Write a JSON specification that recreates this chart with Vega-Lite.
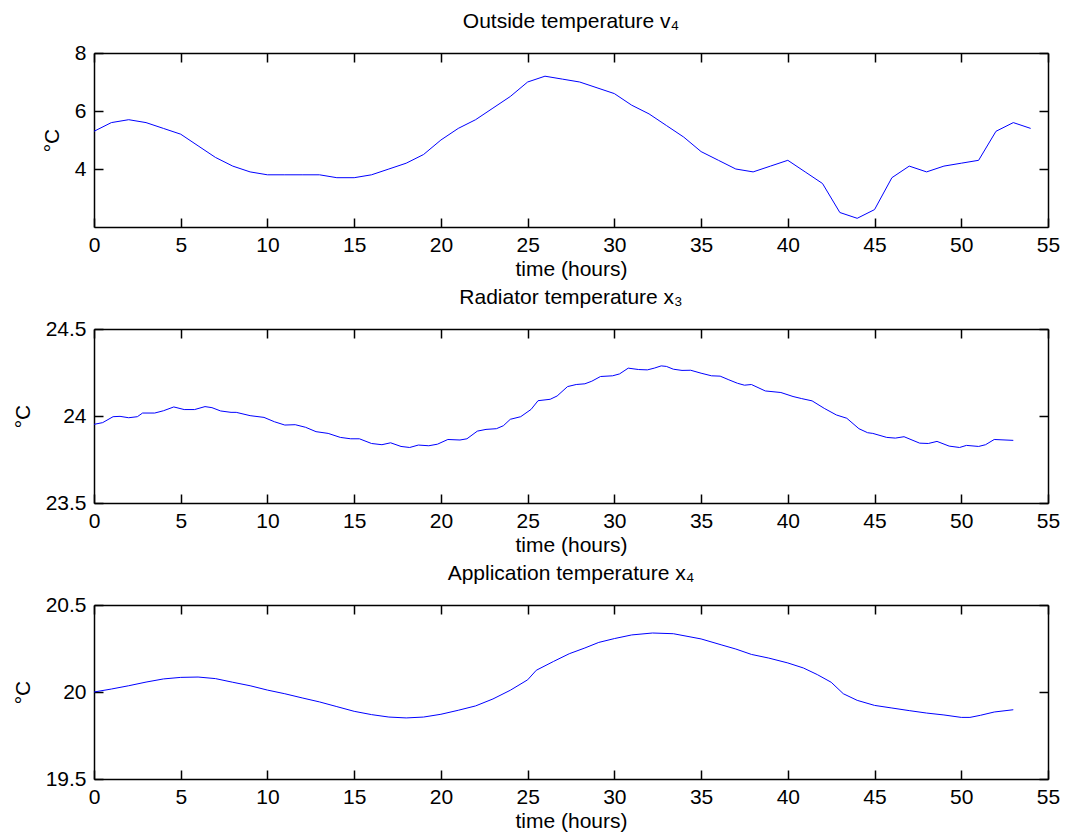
{
  "$schema": "https://vega.github.io/schema/vega-lite/v6.json",
  "background": "white",
  "padding": {"left": 12, "top": 11, "right": 5, "bottom": 5},
  "bounds": "flush",
  "spacing": 102,
  "config": {
    "font": "Liberation Sans",
    "view": {"stroke": null},
    "axis": {
      "labelFont": "Liberation Sans", "labelFontSize": 21, "labelColor": "black",
      "titleFont": "Liberation Sans", "titleFontSize": 21, "titleFontWeight": "normal", "titleColor": "black",
      "domainColor": "black", "domainWidth": 1.5,
      "grid": false, "labelFlush": false, "labelOverlap": false, "labelBound": false
    },
    "title": {"font": "Liberation Sans", "fontSize": 21, "fontWeight": "normal", "color": "black", "anchor": "middle", "baseline": "alphabetic", "offset": 10}
  },
  "datasets": {
    "outside": [
      {"t":0,"v":5.3},{"t":1,"v":5.6},{"t":2,"v":5.7},{"t":3,"v":5.6},{"t":4,"v":5.4},{"t":5,"v":5.2},{"t":6,"v":4.8},{"t":7,"v":4.4},{"t":8,"v":4.1},{"t":9,"v":3.9},{"t":10,"v":3.8},{"t":11,"v":3.8},{"t":12,"v":3.8},{"t":13,"v":3.8},{"t":14,"v":3.7},{"t":15,"v":3.7},{"t":16,"v":3.8},{"t":17,"v":4.0},{"t":18,"v":4.2},{"t":19,"v":4.5},{"t":20,"v":5.0},{"t":21,"v":5.4},{"t":22,"v":5.7},{"t":23,"v":6.1},{"t":24,"v":6.5},{"t":25,"v":7.0},{"t":26,"v":7.2},{"t":27,"v":7.1},{"t":28,"v":7.0},{"t":29,"v":6.8},{"t":30,"v":6.6},{"t":31,"v":6.2},{"t":32,"v":5.9},{"t":33,"v":5.5},{"t":34,"v":5.1},{"t":35,"v":4.6},{"t":36,"v":4.3},{"t":37,"v":4.0},{"t":38,"v":3.9},{"t":39,"v":4.1},{"t":40,"v":4.3},{"t":41,"v":3.9},{"t":42,"v":3.5},{"t":43,"v":2.5},{"t":44,"v":2.3},{"t":45,"v":2.6},{"t":46,"v":3.7},{"t":47,"v":4.1},{"t":48,"v":3.9},{"t":49,"v":4.1},{"t":50,"v":4.2},{"t":51,"v":4.3},{"t":52,"v":5.3},{"t":53,"v":5.6},{"t":54,"v":5.4}
    ],
    "radiator": [
      {"t":0,"v":23.952},{"t":0.5,"v":23.962},{"t":1.1,"v":23.996},{"t":1.5,"v":23.998},{"t":2,"v":23.99},{"t":2.5,"v":23.996},{"t":2.8,"v":24.017},{"t":3.5,"v":24.017},{"t":4,"v":24.03},{"t":4.6,"v":24.052},{"t":5.2,"v":24.037},{"t":5.8,"v":24.037},{"t":6.4,"v":24.054},{"t":6.8,"v":24.048},{"t":7.3,"v":24.029},{"t":7.9,"v":24.021},{"t":8.2,"v":24.021},{"t":9,"v":24.002},{"t":9.8,"v":23.992},{"t":10.4,"v":23.967},{"t":11,"v":23.948},{"t":11.6,"v":23.95},{"t":12.2,"v":23.935},{"t":12.8,"v":23.91},{"t":13.5,"v":23.9},{"t":14.2,"v":23.877},{"t":14.8,"v":23.869},{"t":15.3,"v":23.869},{"t":16,"v":23.842},{"t":16.6,"v":23.835},{"t":17.1,"v":23.846},{"t":17.7,"v":23.825},{"t":18.2,"v":23.819},{"t":18.7,"v":23.833},{"t":19.3,"v":23.829},{"t":19.8,"v":23.838},{"t":20.4,"v":23.865},{"t":21.1,"v":23.862},{"t":21.5,"v":23.869},{"t":22.1,"v":23.913},{"t":22.6,"v":23.923},{"t":23.2,"v":23.927},{"t":23.6,"v":23.944},{"t":24,"v":23.981},{"t":24.6,"v":23.996},{"t":25.2,"v":24.038},{"t":25.6,"v":24.088},{"t":26.3,"v":24.096},{"t":26.7,"v":24.115},{"t":27.3,"v":24.169},{"t":27.8,"v":24.181},{"t":28.3,"v":24.185},{"t":28.7,"v":24.2},{"t":29.2,"v":24.227},{"t":29.9,"v":24.231},{"t":30.3,"v":24.242},{"t":30.8,"v":24.275},{"t":31.4,"v":24.267},{"t":31.9,"v":24.265},{"t":32.3,"v":24.275},{"t":32.7,"v":24.288},{"t":33,"v":24.285},{"t":33.4,"v":24.269},{"t":33.9,"v":24.262},{"t":34.4,"v":24.263},{"t":35,"v":24.246},{"t":35.6,"v":24.231},{"t":36.1,"v":24.229},{"t":36.6,"v":24.208},{"t":37.1,"v":24.188},{"t":37.5,"v":24.177},{"t":37.9,"v":24.181},{"t":38.7,"v":24.144},{"t":39.6,"v":24.135},{"t":40.3,"v":24.112},{"t":40.8,"v":24.1},{"t":41.4,"v":24.087},{"t":42.1,"v":24.044},{"t":42.8,"v":24.006},{"t":43.4,"v":23.987},{"t":44.1,"v":23.927},{"t":44.6,"v":23.904},{"t":44.9,"v":23.9},{"t":45.7,"v":23.877},{"t":46.2,"v":23.873},{"t":46.7,"v":23.881},{"t":47.6,"v":23.844},{"t":48.1,"v":23.842},{"t":48.6,"v":23.854},{"t":49.3,"v":23.827},{"t":49.9,"v":23.819},{"t":50.3,"v":23.831},{"t":51,"v":23.825},{"t":51.4,"v":23.835},{"t":51.9,"v":23.865},{"t":53,"v":23.86}
    ],
    "application": [
      {"t":0,"v":20.0},{"t":1,"v":20.017},{"t":2,"v":20.036},{"t":3,"v":20.057},{"t":4,"v":20.075},{"t":5,"v":20.084},{"t":6,"v":20.086},{"t":7,"v":20.077},{"t":8,"v":20.056},{"t":9,"v":20.036},{"t":10,"v":20.011},{"t":11,"v":19.99},{"t":12,"v":19.966},{"t":13,"v":19.943},{"t":14,"v":19.916},{"t":15,"v":19.889},{"t":16,"v":19.87},{"t":17,"v":19.856},{"t":18,"v":19.851},{"t":19,"v":19.856},{"t":20,"v":19.872},{"t":21,"v":19.895},{"t":22,"v":19.92},{"t":23,"v":19.96},{"t":24,"v":20.01},{"t":25,"v":20.07},{"t":25.5,"v":20.125},{"t":26.5,"v":20.176},{"t":27.4,"v":20.22},{"t":28.3,"v":20.253},{"t":29.1,"v":20.285},{"t":30,"v":20.307},{"t":31,"v":20.328},{"t":32.2,"v":20.339},{"t":33.4,"v":20.335},{"t":35,"v":20.305},{"t":36.2,"v":20.27},{"t":37,"v":20.247},{"t":37.9,"v":20.216},{"t":38.9,"v":20.195},{"t":40,"v":20.167},{"t":40.9,"v":20.138},{"t":41.7,"v":20.1},{"t":42.5,"v":20.056},{"t":43.2,"v":19.99},{"t":44,"v":19.952},{"t":45,"v":19.923},{"t":46,"v":19.908},{"t":47,"v":19.893},{"t":48,"v":19.879},{"t":49,"v":19.868},{"t":50,"v":19.854},{"t":50.5,"v":19.854},{"t":51.1,"v":19.866},{"t":51.9,"v":19.885},{"t":53,"v":19.898}
    ]
  },
  "vconcat": [
    {
      "width": 954, "height": 174,
      "title": {"text": "Outside temperature v₄"},
      "data": {"name": "outside"},
      "layer": [
        {"mark": {"type": "line", "color": "#0000ff", "strokeWidth": 1},
         "encoding": {
           "x": {"field": "t", "type": "quantitative", "scale": {"domain": [0, 55], "nice": false, "zero": false},
                 "axis": {"orient": "bottom", "values": [0,5,10,15,20,25,30,35,40,45,50,55], "title": "time (hours)", "labelPadding": 7, "titlePadding": 3, "ticks": false}},
           "y": {"field": "v", "type": "quantitative", "scale": {"domain": [2, 8], "nice": false, "zero": false},
                 "axis": {"orient": "left", "values": [4, 6, 8], "format": "~g", "title": "°C", "labelPadding": 8, "titlePadding": 12, "ticks": false}}
         }},
        {"mark": {"type": "line", "opacity": 0},
         "encoding": {
           "x": {"field": "t", "type": "quantitative", "axis": {"orient": "top", "values": [0,5,10,15,20,25,30,35,40,45,50,55], "labels": false, "title": null, "ticks": false}},
           "y": {"field": "v", "type": "quantitative", "axis": {"orient": "right", "values": [4, 6, 8], "labels": false, "title": null, "ticks": false}}
         }},
        {"mark": {"type": "line", "opacity": 0},
         "encoding": {
           "x": {"field": "t", "type": "quantitative", "axis": {"orient": "bottom", "offset": -9, "ticks": true, "tickSize": 9, "tickColor": "black", "tickWidth": 1.5, "domain": false, "values": [0,5,10,15,20,25,30,35,40,45,50,55], "labels": false, "title": null}},
           "y": {"field": "v", "type": "quantitative", "axis": {"orient": "left", "offset": -9, "ticks": true, "tickSize": 9, "tickColor": "black", "tickWidth": 1.5, "domain": false, "values": [4, 6, 8], "labels": false, "title": null}}
         }},
        {"mark": {"type": "line", "opacity": 0},
         "encoding": {
           "x": {"field": "t", "type": "quantitative", "axis": {"orient": "top", "offset": -9, "ticks": true, "tickSize": 9, "tickColor": "black", "tickWidth": 1.5, "domain": false, "values": [0,5,10,15,20,25,30,35,40,45,50,55], "labels": false, "title": null}},
           "y": {"field": "v", "type": "quantitative", "axis": {"orient": "right", "offset": -9, "ticks": true, "tickSize": 9, "tickColor": "black", "tickWidth": 1.5, "domain": false, "values": [4, 6, 8], "labels": false, "title": null}}
         }}
      ],
      "resolve": {"axis": {"x": "independent", "y": "independent"}}
    },
    {
      "width": 954, "height": 174,
      "title": {"text": "Radiator temperature x₃"},
      "data": {"name": "radiator"},
      "layer": [
        {"mark": {"type": "line", "color": "#0000ff", "strokeWidth": 1},
         "encoding": {
           "x": {"field": "t", "type": "quantitative", "scale": {"domain": [0, 55], "nice": false, "zero": false},
                 "axis": {"orient": "bottom", "values": [0,5,10,15,20,25,30,35,40,45,50,55], "title": "time (hours)", "labelPadding": 7, "titlePadding": 3, "ticks": false}},
           "y": {"field": "v", "type": "quantitative", "scale": {"domain": [23.5, 24.5], "nice": false, "zero": false},
                 "axis": {"orient": "left", "values": [23.5, 24, 24.5], "format": "~g", "title": "°C", "labelPadding": 8, "titlePadding": 12, "ticks": false}}
         }},
        {"mark": {"type": "line", "opacity": 0},
         "encoding": {
           "x": {"field": "t", "type": "quantitative", "axis": {"orient": "top", "values": [0,5,10,15,20,25,30,35,40,45,50,55], "labels": false, "title": null, "ticks": false}},
           "y": {"field": "v", "type": "quantitative", "axis": {"orient": "right", "values": [23.5, 24, 24.5], "labels": false, "title": null, "ticks": false}}
         }},
        {"mark": {"type": "line", "opacity": 0},
         "encoding": {
           "x": {"field": "t", "type": "quantitative", "axis": {"orient": "bottom", "offset": -9, "ticks": true, "tickSize": 9, "tickColor": "black", "tickWidth": 1.5, "domain": false, "values": [0,5,10,15,20,25,30,35,40,45,50,55], "labels": false, "title": null}},
           "y": {"field": "v", "type": "quantitative", "axis": {"orient": "left", "offset": -9, "ticks": true, "tickSize": 9, "tickColor": "black", "tickWidth": 1.5, "domain": false, "values": [23.5, 24, 24.5], "labels": false, "title": null}}
         }},
        {"mark": {"type": "line", "opacity": 0},
         "encoding": {
           "x": {"field": "t", "type": "quantitative", "axis": {"orient": "top", "offset": -9, "ticks": true, "tickSize": 9, "tickColor": "black", "tickWidth": 1.5, "domain": false, "values": [0,5,10,15,20,25,30,35,40,45,50,55], "labels": false, "title": null}},
           "y": {"field": "v", "type": "quantitative", "axis": {"orient": "right", "offset": -9, "ticks": true, "tickSize": 9, "tickColor": "black", "tickWidth": 1.5, "domain": false, "values": [23.5, 24, 24.5], "labels": false, "title": null}}
         }}
      ],
      "resolve": {"axis": {"x": "independent", "y": "independent"}}
    },
    {
      "width": 954, "height": 174,
      "title": {"text": "Application temperature x₄"},
      "data": {"name": "application"},
      "layer": [
        {"mark": {"type": "line", "color": "#0000ff", "strokeWidth": 1},
         "encoding": {
           "x": {"field": "t", "type": "quantitative", "scale": {"domain": [0, 55], "nice": false, "zero": false},
                 "axis": {"orient": "bottom", "values": [0,5,10,15,20,25,30,35,40,45,50,55], "title": "time (hours)", "labelPadding": 7, "titlePadding": 3, "ticks": false}},
           "y": {"field": "v", "type": "quantitative", "scale": {"domain": [19.5, 20.5], "nice": false, "zero": false},
                 "axis": {"orient": "left", "values": [19.5, 20, 20.5], "format": "~g", "title": "°C", "labelPadding": 8, "titlePadding": 12, "ticks": false}}
         }},
        {"mark": {"type": "line", "opacity": 0},
         "encoding": {
           "x": {"field": "t", "type": "quantitative", "axis": {"orient": "top", "values": [0,5,10,15,20,25,30,35,40,45,50,55], "labels": false, "title": null, "ticks": false}},
           "y": {"field": "v", "type": "quantitative", "axis": {"orient": "right", "values": [19.5, 20, 20.5], "labels": false, "title": null, "ticks": false}}
         }},
        {"mark": {"type": "line", "opacity": 0},
         "encoding": {
           "x": {"field": "t", "type": "quantitative", "axis": {"orient": "bottom", "offset": -9, "ticks": true, "tickSize": 9, "tickColor": "black", "tickWidth": 1.5, "domain": false, "values": [0,5,10,15,20,25,30,35,40,45,50,55], "labels": false, "title": null}},
           "y": {"field": "v", "type": "quantitative", "axis": {"orient": "left", "offset": -9, "ticks": true, "tickSize": 9, "tickColor": "black", "tickWidth": 1.5, "domain": false, "values": [19.5, 20, 20.5], "labels": false, "title": null}}
         }},
        {"mark": {"type": "line", "opacity": 0},
         "encoding": {
           "x": {"field": "t", "type": "quantitative", "axis": {"orient": "top", "offset": -9, "ticks": true, "tickSize": 9, "tickColor": "black", "tickWidth": 1.5, "domain": false, "values": [0,5,10,15,20,25,30,35,40,45,50,55], "labels": false, "title": null}},
           "y": {"field": "v", "type": "quantitative", "axis": {"orient": "right", "offset": -9, "ticks": true, "tickSize": 9, "tickColor": "black", "tickWidth": 1.5, "domain": false, "values": [19.5, 20, 20.5], "labels": false, "title": null}}
         }}
      ],
      "resolve": {"axis": {"x": "independent", "y": "independent"}}
    }
  ]
}
